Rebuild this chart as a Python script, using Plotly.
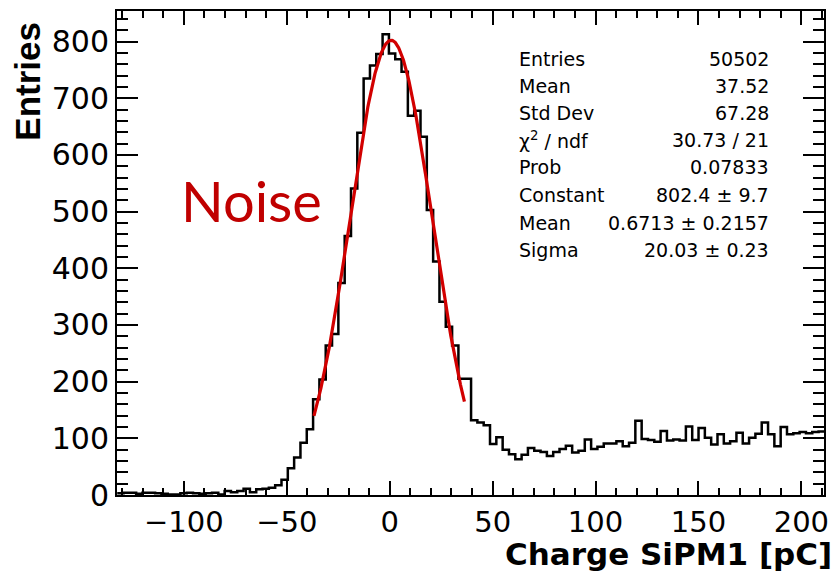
import numpy as np
import plotly.graph_objects as go

# ---------------- data ----------------
bin_lo = -132.4          # first bin edge [pC]
bin_width = 3.07         # bin width [pC]
counts = [
    3, 4, 4, 2, 4, 4, 3, 2, 1, 1,
    3, 4, 3, 2, 3, 4, 1, 7, 5, 7,
    11, 5, 10, 11, 13, 17, 27, 47, 66, 92,
    116, 169, 204, 264, 284, 374, 457, 541, 639, 735,
    758, 778, 813, 779, 769, 747, 669, 678, 632, 503,
    412, 341, 297, 264, 205, 205, 132, 128, 123, 90,
    102, 80, 72, 63, 71, 83, 78, 76, 69, 76,
    81, 87, 75, 78, 98, 81, 85, 91, 91, 95,
    86, 92, 131, 99, 97, 94, 113, 96, 98, 96,
    121, 97, 118, 101, 89, 107, 91, 95, 110, 91,
    101, 108, 128, 107, 86, 120, 107, 109, 111, 109, 111, 112,
]

# Gaussian fit parameters (from the stats box) and fit range
fit_const = 802.4
fit_mean = 0.6713
fit_sigma = 20.03
fit_range = (-36.8, 36.3)

stats_labels = ["Entries", "Mean", "Std Dev", "χ<sup>2</sup> / ndf", "Prob",
                "Constant", "Mean", "Sigma"]
stats_values = ["50502", "37.52", "67.28", "30.73 / 21", "0.07833",
                "802.4 ± 9.7", "0.6713 ± 0.2157", "20.03 ± 0.23"]

x_title = "Charge SiPM1 [pC]"
y_title = "Entries"
label_text = "Noise"

# ---------------- build ----------------
n = len(counts)
edges = bin_lo + bin_width * np.arange(n + 1)
step_x = list(edges)
step_y = list(counts) + [counts[-1]]

fx = np.linspace(fit_range[0], fit_range[1], 300)
fy = fit_const * np.exp(-0.5 * ((fx - fit_mean) / fit_sigma) ** 2)

fig = go.Figure()
fig.add_trace(go.Scatter(x=step_x, y=step_y, mode="lines",
                         line=dict(shape="hv", color="black", width=2.5),
                         hoverinfo="skip", showlegend=False))
fig.add_trace(go.Scatter(x=fx, y=fy, mode="lines",
                         line=dict(color="rgb(210,0,0)", width=3.2),
                         hoverinfo="skip", showlegend=False))

W, H = 836, 571
L, R, T, B = 117, 7, 11, 76
pw, ph = W - L - R, H - T - B

def px(x):
    return (x - L) / pw

def py(y):
    return (H - B - y) / ph

fnt = "DejaVu Sans"
annotations = []
row_y = [59, 86, 113, 140, 167, 195, 223, 250]
for lab, val, yy in zip(stats_labels, stats_values, row_y):
    annotations.append(dict(x=px(520), y=py(yy), xref="paper", yref="paper",
                            text=lab, showarrow=False, xanchor="left", yanchor="middle",
                            font=dict(family=fnt, size=19, color="black")))
    annotations.append(dict(x=px(776), y=py(yy), xref="paper", yref="paper",
                            text=val, showarrow=False, xanchor="right", yanchor="middle",
                            font=dict(family=fnt, size=19, color="black")))

annotations.append(dict(x=px(839), y=py(554), xref="paper", yref="paper",
                        text="<b>%s</b>" % x_title, showarrow=False,
                        xanchor="right", yanchor="middle",
                        font=dict(family=fnt, size=31, color="black")))
annotations.append(dict(x=px(27), y=py(81), xref="paper", yref="paper",
                        text="<b>%s</b>" % y_title, showarrow=False, textangle=-90,
                        xanchor="center", yanchor="middle",
                        font=dict(family="Liberation Sans Narrow, Liberation Sans",
                                  size=35, color="black")))
annotations.append(dict(x=px(252), y=py(200), xref="paper", yref="paper",
                        text=label_text, showarrow=False,
                        xanchor="center", yanchor="middle",
                        font=dict(family="Lato", size=56, color="rgb(192,0,0)")))

fig.update_layout(
    width=W, height=H,
    margin=dict(l=L, r=R, t=T, b=B, pad=0),
    plot_bgcolor="white", paper_bgcolor="white",
    showlegend=False,
    annotations=annotations,
    xaxis=dict(range=[-132.5, 211.0], showgrid=False, zeroline=False,
               showline=True, linecolor="black", linewidth=2, mirror="allticks",
               ticks="inside", ticklen=14, tickwidth=1.5, tickcolor="black",
               dtick=50, tick0=0,
               minor=dict(ticks="inside", ticklen=7, dtick=10, tick0=0,
                          tickcolor="black", tickwidth=1.5, showgrid=False),
               tickfont=dict(family=fnt, size=29, color="black")),
    yaxis=dict(range=[0, 854], showgrid=False, zeroline=False,
               showline=True, linecolor="black", linewidth=2, mirror="allticks",
               ticks="inside", ticklen=21, tickwidth=1.5, tickcolor="black",
               dtick=100, tick0=0,
               minor=dict(ticks="inside", ticklen=11, dtick=20, tick0=0,
                          tickcolor="black", tickwidth=1.5, showgrid=False),
               tickfont=dict(family=fnt, size=30, color="black")),
)

fig.write_html("out.html",
               config={"displayModeBar": False},
               post_script="document.body.style.margin='0';"
                           "document.body.style.overflow='hidden';")
